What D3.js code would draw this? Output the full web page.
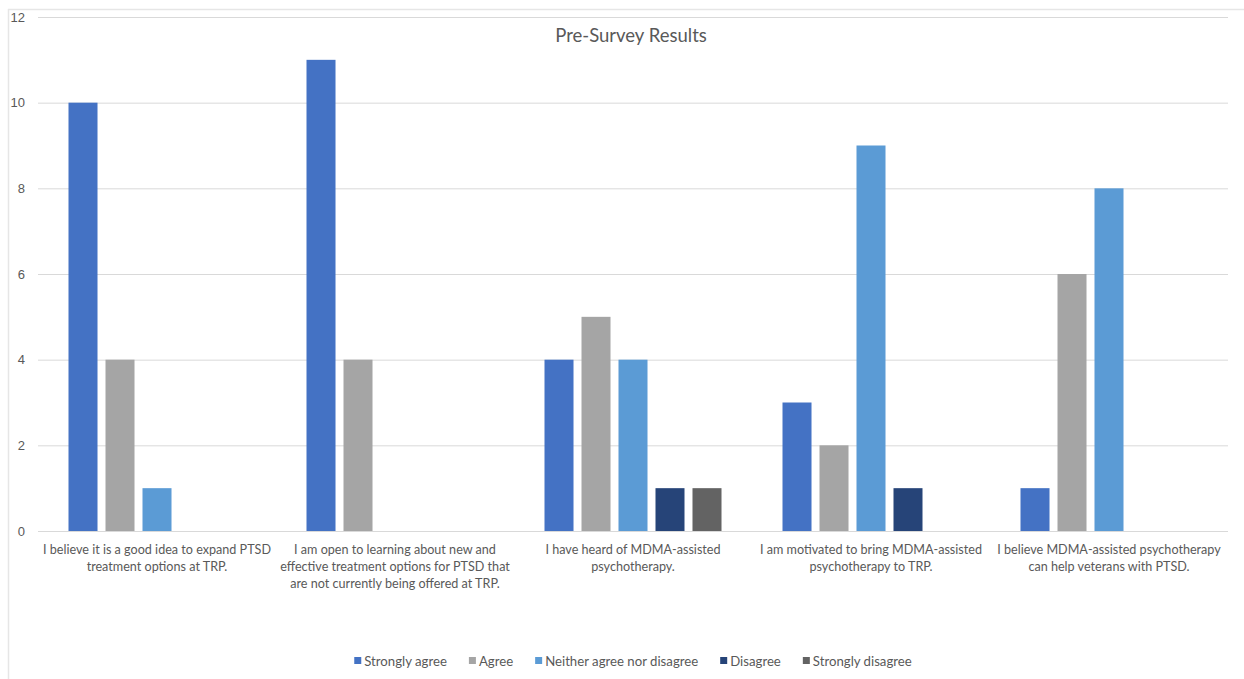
<!DOCTYPE html>
<html>
<head>
<meta charset="utf-8">
<script src="https://cdn.jsdelivr.net/npm/d3@7"></script>
<style>
  body { margin: 0; background: #fff; }
  svg { display: block; font-family: Lato, "Noto Sans", sans-serif; }
</style>
</head>
<body>
<script>
// chart data
var categories = ["q1", "q2", "q3", "q4", "q5"];
var categoryLines = [
  ["I believe it is a good idea to expand PTSD", "treatment options at TRP."],
  ["I am open to learning about new and", "effective treatment options for PTSD that", "are not currently being offered at TRP."],
  ["I have heard of MDMA-assisted", "psychotherapy."],
  ["I am motivated to bring MDMA-assisted", "psychotherapy to TRP."],
  ["I believe MDMA-assisted psychotherapy", "can help veterans with PTSD."]
];
var seriesNames = ["Strongly agree", "Agree", "Neither agree nor disagree", "Disagree", "Strongly disagree"];
var seriesColors = ["#4472C4", "#A5A5A5", "#5B9BD5", "#264478", "#636363"];
var stronglyAgree = [10, 11, 4, 3, 1];
var agree = [4, 4, 5, 2, 6];
var neither = [1, 0, 4, 9, 8];
var disagree = [0, 0, 1, 1, 0];
var stronglyDisagree = [0, 0, 1, 0, 0];
var yTicks = [0, 2, 4, 6, 8, 10, 12];

var values = [stronglyAgree, agree, neither, disagree, stronglyDisagree];

var W = 1244, H = 679;
var svg = d3.select("body").append("svg").attr("width", W).attr("height", H);

// outer frame
svg.append("line").attr("x1", 8).attr("x2", W).attr("y1", 9.5).attr("y2", 9.5)
  .attr("stroke", "#e6e6e6").attr("stroke-width", 1.5);
svg.append("line").attr("x1", 8.5).attr("x2", 8.5).attr("y1", 9).attr("y2", H)
  .attr("stroke", "#e6e6e6").attr("stroke-width", 1.5);

var plotL = 38, plotR = 1228, plotT = 17, plotB = 531;

var x0 = d3.scaleBand().domain(categories).range([plotL, plotR]);
var gw = x0.bandwidth();
var x1 = d3.scaleBand().domain(seriesNames)
  .range([(gw - 177) / 2, (gw + 177) / 2]).paddingInner(0.216).paddingOuter(0);
var y = d3.scaleLinear().domain([0, 12]).range([plotB, plotT]);

// gridlines + y labels
var yAxis = svg.append("g").attr("transform", "translate(" + plotL + ",0)")
  .call(d3.axisLeft(y).tickValues(yTicks).tickSize(-(plotR - plotL)).tickPadding(13));
yAxis.select(".domain").remove();
yAxis.selectAll(".tick line").attr("stroke", "#d9d9d9");
yAxis.selectAll(".tick text").attr("fill", "#595959").style("font-size", "13px");

// bars
var groups = svg.selectAll(".grp").data(categories).enter().append("g")
  .attr("class", "grp")
  .attr("transform", function(d) { return "translate(" + x0(d) + ",0)"; });

groups.selectAll("rect")
  .data(function(d, i) {
    return seriesNames.map(function(s, j) { return {s: s, j: j, v: values[j][i]}; })
      .filter(function(e) { return e.v > 0; });
  })
  .enter().append("rect")
  .attr("x", function(d) { return x1(d.s); })
  .attr("width", x1.bandwidth())
  .attr("y", function(d) { return y(d.v); })
  .attr("height", function(d) { return y(0) - y(d.v); })
  .attr("fill", function(d) { return seriesColors[d.j]; });

// category labels
groups.each(function(d, i) {
  var t = d3.select(this).append("text")
    .attr("text-anchor", "middle")
    .attr("fill", "#595959")
    .style("font-size", "12.6px");
  categoryLines[i].forEach(function(line, k) {
    t.append("tspan").attr("x", gw / 2).attr("y", 554 + k * 17).text(line);
  });
});

// title
svg.append("text").attr("x", 631).attr("y", 42).attr("text-anchor", "middle")
  .attr("fill", "#595959").style("font-size", "18.5px").text("Pre-Survey Results");

// legend
var legend = svg.append("g");
var lx = 0, gap = 22;
seriesNames.forEach(function(s, j) {
  var item = legend.append("g").attr("transform", "translate(" + lx + ",0)");
  item.append("rect").attr("x", 0).attr("y", 657).attr("width", 7).attr("height", 7)
    .attr("fill", seriesColors[j]);
  var tx = item.append("text").attr("x", 10).attr("y", 665.5)
    .attr("fill", "#595959").style("font-size", "13.2px").text(s);
  lx += 10 + tx.node().getComputedTextLength() + gap;
});
var legW = lx - gap;
legend.attr("transform", "translate(" + (633 - legW / 2) + ",0)");
</script>
</body>
</html>
